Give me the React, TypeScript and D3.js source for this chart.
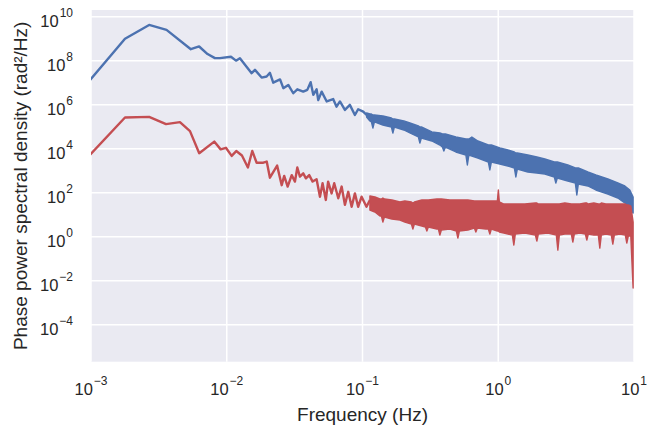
import React from 'react';
import * as d3 from 'd3';

const width = 661;
const height = 430;
const plotLeft = 91;
const plotRight = 634;
const plotTop = 10;
const plotBottom = 361.7;

const blueColor = '#4C72B0';
const redColor = '#C44E52';

// tick values (Hz and rad²/Hz)
const xTicks = [1e-3, 1e-2, 1e-1, 1, 10];
const yTicks = [1e10, 1e8, 1e6, 1e4, 1e2, 1, 1e-2, 1e-4];

// blue curve, low frequency part (one point per bin)
const blueFreq = [0.00089, 0.00178, 0.00268, 0.0036, 0.00544, 0.00626, 0.00722, 0.00818, 0.00891, 0.01074,
  0.0117, 0.0125, 0.01525, 0.01614, 0.01807, 0.01967, 0.0208, 0.022, 0.0247, 0.0261,
  0.0284, 0.0309, 0.0331, 0.0366, 0.0392, 0.0415, 0.0434, 0.0459, 0.0472, 0.05,
  0.0545, 0.0608, 0.0644, 0.0682, 0.0742, 0.0807, 0.0879, 0.0929, 0.1012, 0.1072];
const bluePsd = [6.3e6, 9.8e8, 4.2e9, 2.5e9, 3.3e8, 4.4e8, 2.0e8, 1.3e8, 1.3e8, 1.5e8,
  1.0e8, 1.3e8, 2.7e7, 3.8e7, 1.7e7, 1.9e7, 2.8e7, 1.0e7, 1.4e7, 5.6e6,
  7.9e6, 3.3e6, 5.0e6, 3.9e6, 4.7e6, 1.05e7, 2.8e6, 5.0e6, 1.6e6, 3.9e6,
  1.4e6, 1.8e6, 8.1e5, 1.4e6, 5.8e5, 9.8e5, 3.4e5, 6.2e5, 4.8e5, 3.4e5];

// blue curve, dense part: upper / lower envelope of the noise
const blueBandFreq = [0.1072, 0.1134, 0.1163, 0.1193, 0.1224, 0.1413, 0.1633, 0.1674, 0.1717, 0.2017,
  0.2234, 0.258, 0.2647, 0.2715, 0.3243, 0.3715, 0.3876, 0.3976, 0.4078, 0.4873,
  0.5774, 0.5922, 0.6075, 0.6392, 0.7076, 0.8453, 0.8672, 0.8896, 1.027, 1.177,
  1.314, 1.348, 1.382, 1.652, 1.925, 2.204, 2.589, 2.656, 2.724, 3.254,
  3.696, 3.792, 3.89, 4.57, 5.233, 5.794, 6.413, 7.6, 8.557, 9.313,
  9.85];
const blueBandHigh = [4.2e5, 3.78e5, 3.78e5, 3.4e5, 3.4e5, 3.06e5, 2.48e5, 2.24e5, 2.24e5, 1.82e5,
  1.47e5, 1.08e5, 9.69e4, 9.69e4, 5.74e4, 5.17e4, 4.66e4, 4.66e4, 4.66e4, 3.4e4,
  2.76e4, 2.76e4, 2.76e4, 3.4e4, 2.24e4, 1.47e4, 1.47e4, 1.47e4, 1.08e4, 8.73e3,
  7.08e3, 6.38e3, 6.38e3, 5.17e3, 4.2e3, 3.4e3, 2.48e3, 2.48e3, 2.48e3, 1.82e3,
  1.33e3, 1.33e3, 1.33e3, 873, 638, 518, 420, 276, 202, 133,
  63.8];
const blueBandLow = [2.76e5, 1.82e5, 1.64e5, 8.73e4, 1.64e5, 1.19e5, 9.69e4, 5.17e4, 9.69e4, 7.08e4,
  5.17e4, 3.4e4, 1.82e4, 3.06e4, 2.24e4, 1.47e4, 1.19e4, 7.86e3, 1.19e4, 7.08e3,
  5.17e3, 1.82e3, 5.17e3, 4.66e3, 3.78e3, 2.48e3, 1.08e3, 2.48e3, 2.02e3, 1.64e3,
  1.33e3, 518, 1.19e3, 873, 786, 708, 518, 276, 466, 340,
  276, 78.6, 248, 202, 133, 108, 87.3, 57.5, 34.0, 22.4,
  11.9];

// red curve, low frequency part
const redFreq = [0.00089, 0.00178, 0.00268, 0.00357, 0.00452, 0.00536, 0.00627, 0.00809, 0.00902, 0.00986,
  0.01087, 0.01175, 0.01294, 0.01432, 0.01541, 0.0166, 0.0186, 0.0197, 0.0208, 0.0235,
  0.0254, 0.0265, 0.0281, 0.0301, 0.0318, 0.0331, 0.0346, 0.0366, 0.0383, 0.0405,
  0.0429, 0.0459, 0.0486, 0.0508, 0.0537, 0.0558, 0.0592, 0.0619, 0.0663, 0.0702,
  0.0742, 0.0785, 0.0832, 0.0879, 0.0929, 0.0985, 0.107, 0.1134];
const redPsd = [2.7e3, 2.6e5, 2.8e5, 1.3e5, 1.6e5, 6.3e4, 6.2e3, 2.1e4, 9.3e3, 1.1e4,
  4.7e3, 7.8e3, 4.9e3, 1.4e3, 7.9e3, 2.3e3, 2.3e3, 2.6e3, 4.8e2, 1.7e3,
  2.2e2, 5.8e2, 1.9e2, 6.3e2, 3.2e2, 1.4e3, 5.4e2, 7.6e2, 4.5e2, 6.3e2,
  3.2e2, 4.1e2, 66, 2.7e2, 47, 3.2e2, 93, 2.7e2, 56, 1.9e2,
  28, 1.1e2, 23, 93, 23, 66, 23, 47];

// red curve, dense part
const redBandFreq = [0.1134, 0.1234, 0.1343, 0.1378, 0.1413, 0.145, 0.1647, 0.1886, 0.2052, 0.2292,
  0.235, 0.2412, 0.2738, 0.2906, 0.298, 0.3057, 0.3531, 0.3622, 0.3715, 0.3811,
  0.4402, 0.4915, 0.5041, 0.5171, 0.5972, 0.6668, 0.6841, 0.7017, 0.8102, 0.8453,
  0.8672, 0.8896, 0.9849, 1.0017, 1.019, 1.1, 1.27, 1.303, 1.336, 1.57,
  1.876, 1.925, 1.974, 2.318, 2.679, 2.748, 2.818, 3.094, 3.454, 3.543,
  3.634, 3.99, 4.379, 4.492, 4.608, 5.058, 5.459, 5.6, 5.744, 6.199,
  6.806, 6.982, 7.162, 7.862, 8.629, 8.851, 9.079, 9.471, 9.85];
const redBandHigh = [70.8, 63.8, 51.8, 51.8, 57.5, 51.8, 46.6, 37.8, 42.0, 37.8,
  34.0, 37.8, 46.6, 46.6, 46.6, 46.6, 51.8, 51.8, 51.8, 51.8,
  46.6, 46.6, 46.6, 46.6, 46.6, 42.0, 42.0, 42.0, 42.0, 42.0,
  42.0, 42.0, 42.0, 133, 37.8, 30.6, 30.6, 30.6, 30.6, 30.6,
  34.0, 34.0, 30.6, 30.6, 30.6, 30.6, 30.6, 34.0, 30.6, 30.6,
  30.6, 30.6, 34.0, 34.0, 30.6, 34.0, 30.6, 30.6, 34.0, 30.6,
  30.6, 30.6, 30.6, 30.6, 30.6, 27.6, 27.6, 24.8, 4.66];
const redBandLow = [16.4, 13.3, 8.73, 8.73, 4.66, 7.86, 6.38, 5.74, 4.66, 3.78,
  2.24, 3.78, 3.06, 2.76, 1.82, 2.76, 2.24, 2.24, 1.19, 2.02,
  2.24, 1.82, 0.873, 1.82, 2.02, 2.48, 1.64, 2.48, 2.24, 2.24,
  1.33, 2.24, 1.82, 1.82, 1.64, 1.47, 1.19, 0.42, 1.33, 1.47,
  1.19, 0.638, 1.33, 1.47, 1.19, 0.248, 1.19, 1.33, 1.33, 0.574,
  1.33, 1.47, 1.33, 0.708, 1.33, 1.19, 1.19, 0.306, 1.19, 1.33,
  1.19, 0.466, 1.19, 1.33, 1.19, 0.518, 1.08, 1.08, 0.00466];

const fontFamily = '"Liberation Sans", Arial, sans-serif';
const textColor = '#262626';

function expText(v: number) {
  const e = Math.round(Math.log10(v));
  return e < 0 ? '\u2212' + Math.abs(e) : String(e);
}

export default function App() {
  const x = d3.scaleLog().domain([1e-3, 10]).range([plotLeft, plotRight]);
  const y = d3.scaleLog().domain([2.1e-6, 2.0e10]).range([plotBottom, plotTop]);

  const line = d3.line<number[]>().x(d => x(d[0])).y(d => y(d[1]));
  const area = d3.area<number[]>()
    .x(d => x(d[0]))
    .y0(d => y(d[2]))
    .y1(d => y(d[1]));

  const series = [
    { color: blueColor, pts: d3.zip(blueFreq, bluePsd), band: d3.zip(blueBandFreq, blueBandHigh, blueBandLow) },
    { color: redColor, pts: d3.zip(redFreq, redPsd), band: d3.zip(redBandFreq, redBandHigh, redBandLow) },
  ];

  return (
    <svg width={width} height={height} style={{ position: 'absolute', left: 0, top: 0 }}>
      <defs>
        <clipPath id="plot-clip">
          <rect x={plotLeft} y={plotTop} width={plotRight - plotLeft} height={plotBottom - plotTop} />
        </clipPath>
      </defs>
      <rect x={0} y={0} width={width} height={height} fill="#fff" />
      <rect x={plotLeft} y={plotTop} width={plotRight - plotLeft} height={plotBottom - plotTop} fill="#EAEAF2" />

      {xTicks.map(t => (
        <line key={'gx' + t} x1={x(t)} x2={x(t)} y1={plotTop} y2={plotBottom} stroke="#fff" strokeWidth={1.5} />
      ))}
      {yTicks.map(t => (
        <line key={'gy' + t} x1={plotLeft} x2={plotRight} y1={y(t)} y2={y(t)} stroke="#fff" strokeWidth={1.5} />
      ))}

      <g clipPath="url(#plot-clip)">
        {series.map(s => (
          <g key={s.color}>
            <path d={line(s.pts) || ''} fill="none" stroke={s.color} strokeWidth={2.4} strokeLinejoin="round" />
            <path d={area(s.band) || ''} fill={s.color} stroke={s.color} strokeWidth={1.4} strokeLinejoin="round" />
          </g>
        ))}
      </g>

      <g fontFamily={fontFamily} fill={textColor}>
        {xTicks.map(t => (
          <text key={'tx' + t} x={x(t)} y={395} textAnchor="middle" fontSize={16.5}>
            <tspan>10</tspan>
            <tspan dy={-10} dx={1} fontSize={12}>{expText(t)}</tspan>
          </text>
        ))}
        {yTicks.map(t => (
          <text key={'ty' + t} x={73} y={y(t) + 10} textAnchor="end" fontSize={16.5}>
            <tspan>10</tspan>
            <tspan dy={-10} dx={1} fontSize={12}>{expText(t)}</tspan>
          </text>
        ))}
        <text x={(plotLeft + plotRight) / 2} y={421} textAnchor="middle" fontSize={19}>Frequency (Hz)</text>
        <text transform={`translate(27,${(plotTop + plotBottom) / 2}) rotate(-90)`} textAnchor="middle" fontSize={19}>
          Phase power spectral density (rad²/Hz)
        </text>
      </g>
    </svg>
  );
}
